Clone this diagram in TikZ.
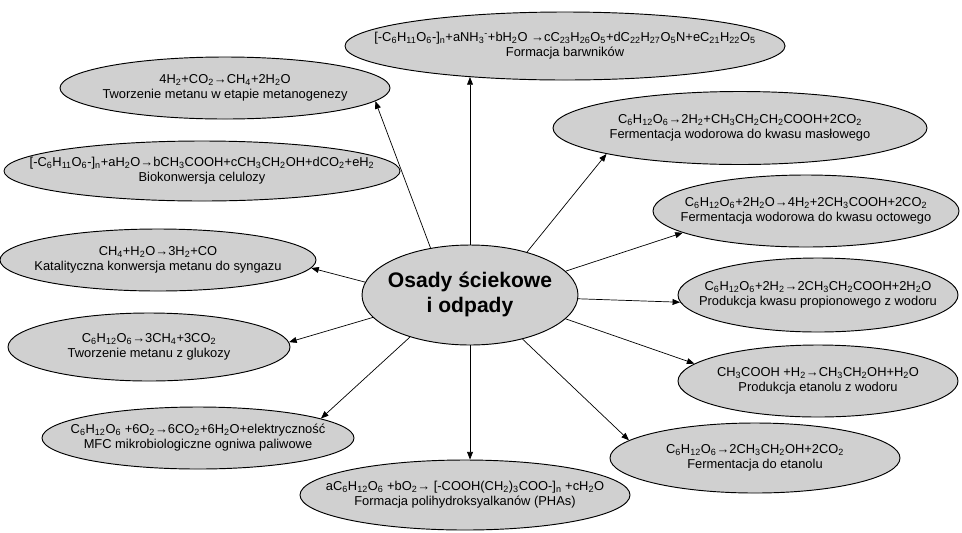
\documentclass[tikz,border=0pt]{standalone}
\usepackage{fontspec}
\setmainfont{Liberation Sans}
\usepackage{tikz}
\usetikzlibrary{
    arrows.meta,      % For the filled arrow tips
    shapes.geometric  % For the ellipse nodes
}
\definecolor{ellgray}{RGB}{208,208,208}
\newcommand{\chs}[1]{\textsubscript{#1}}
\newcommand{\chp}[1]{\textsuperscript{#1}}
% two centred lines that do not widen the ellipse
\newcommand{\etext}[2]{\makebox[0pt]{\begin{tabular}{@{}c@{}}#1\\#2\end{tabular}}}

\begin{document}
\begin{tikzpicture}[
    x=0.3mm, y=-0.3mm, % one unit is one pixel of the reference
    font=\fontsize{11}{12.5}\selectfont,
    ell/.style 2 args={ellipse, draw=black, line width=0.8pt, fill=ellgray, inner sep=0pt,
        minimum width=#1*0.3mm, minimum height=#2*0.3mm},
    arr/.style={draw=black, line width=0.6pt, -{Triangle[length=6.5pt,width=5pt]}}
]
    % Fix the page size
    \useasboundingbox (0,0) rectangle (962,532);

    % Central node
    \node[ell={216}{100}, font=\fontsize{18}{21}\selectfont\bfseries] (c) at (470,295)
        {\etext{Osady ściekowe}{i odpady}};

    % Left side
    \node[ell={330}{62}] (metano) at (225,88)
        {\etext{4H\chs{2}+CO\chs{2}→CH\chs{4}+2H\chs{2}O}{Tworzenie metanu w etapie metanogenezy}};
    \node[ell={396}{60}] (bioko) at (202,171)
        {\etext{[-C\chs{6}H\chs{11}O\chs{6}-]\chs{n}+aH\chs{2}O→bCH\chs{3}COOH+cCH\chs{3}CH\chs{2}OH+dCO\chs{2}+eH\chs{2}}{Biokonwersja celulozy}};
    \node[ell={316}{62}] (katal) at (158,260)
        {\etext{CH\chs{4}+H\chs{2}O→3H\chs{2}+CO}{Katalityczna konwersja metanu do syngazu}};
    \node[ell={282}{68}] (gluk) at (149,347)
        {\etext{C\chs{6}H\chs{12}O\chs{6}→3CH\chs{4}+3CO\chs{2}}{Tworzenie metanu z glukozy}};
    \node[ell={312}{62}] (mfc) at (198,438)
        {\etext{C\chs{6}H\chs{12}O\chs{6} +6O\chs{2}→6CO\chs{2}+6H\chs{2}O+elektryczność}{MFC mikrobiologiczne ogniwa paliwowe}};

    % Top and bottom
    \node[ell={440}{68}] (barw) at (565,46)
        {\etext{[-C\chs{6}H\chs{11}O\chs{6}-]\chs{n}+aNH\chs{3}\chp{-}+bH\chs{2}O →cC\chs{23}H\chs{26}O\chs{5}+dC\chs{22}H\chs{27}O\chs{5}N+eC\chs{21}H\chs{22}O\chs{5}}{Formacja barwników}};
    \node[ell={330}{70}] (pha) at (465,495)
        {\etext{aC\chs{6}H\chs{12}O\chs{6} +bO\chs{2}→ [-COOH(CH\chs{2})\chs{3}COO-]\chs{n} +cH\chs{2}O}{Formacja polihydroksyalkanów (PHAs)}};

    % Right side
    \node[ell={374}{73}] (masl) at (740,128)
        {\etext{C\chs{6}H\chs{12}O\chs{6}→2H\chs{2}+CH\chs{3}CH\chs{2}CH\chs{2}COOH+2CO\chs{2}}{Fermentacja wodorowa do kwasu masłowego}};
    \node[ell={306}{72}] (octo) at (806,211)
        {\etext{C\chs{6}H\chs{12}O\chs{6}+2H\chs{2}O→4H\chs{2}+2CH\chs{3}COOH+2CO\chs{2}}{Fermentacja wodorowa do kwasu octowego}};
    \node[ell={280}{74}] (prop) at (818,295)
        {\etext{C\chs{6}H\chs{12}O\chs{6}+2H\chs{2}→2CH\chs{3}CH\chs{2}COOH+2H\chs{2}O}{Produkcja kwasu propionowego z wodoru}};
    \node[ell={280}{72}] (etwod) at (818,381)
        {\etext{CH\chs{3}COOH +H\chs{2}→CH\chs{3}CH\chs{2}OH+H\chs{2}O}{Produkcja etanolu z wodoru}};
    \node[ell={290}{70}] (ferm) at (755,458)
        {\etext{C\chs{6}H\chs{12}O\chs{6}→2CH\chs{3}CH\chs{2}OH+2CO\chs{2}}{Fermentacja do etanolu}};

    % Arrows from the centre
    \draw[arr] (c.north) -- (c.north |- barw.198);
    \draw[arr] (c.130) -- (metano.-5);
    \draw[arr] (c.173) -- (katal.-3);
    \draw[arr] (c.193) -- (gluk.2);
    \draw[arr] (c.215) -- (mfc.9);
    \draw[arr] (c.south) -- (c.south |- pha.north);
    \draw[arr] (c.-40) -- (ferm.172);
    \draw[arr] (c.-14) -- (etwod.172);
    \draw[arr] (c.-2) -- (prop.183);
    \draw[arr] (c.14) -- (octo.190);
    \draw[arr] (c.37) -- (masl.191);
\end{tikzpicture}
\end{document}
